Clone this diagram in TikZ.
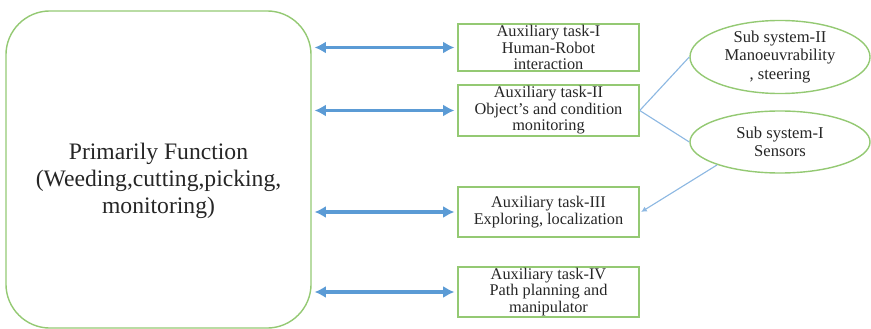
\documentclass[tikz,border=0pt]{standalone}
\usepackage{fontspec}
\setmainfont{Liberation Serif}
\usetikzlibrary{arrows.meta,positioning,shapes.geometric}
\definecolor{boxgreen}{HTML}{94C973}
\definecolor{arrowblue}{HTML}{5B9BD5}
\definecolor{lineblue}{HTML}{8DB8E2}
\definecolor{inktext}{HTML}{262626}

\tikzset{
 taskbox/.style={draw=boxgreen,line width=1pt,minimum width=4.525cm,align=center,
  text=inktext,inner sep=0pt,font=\fontsize{11.6}{11.8}\selectfont},
 subsys/.style={draw=boxgreen,line width=1pt,ellipse,minimum width=4.5cm,minimum height=1.55cm,
  align=center,text=inktext,inner sep=0pt,font=\fontsize{11.8}{13}\selectfont},
 link/.style={<->,arrowblue,line width=2.6pt,>={Latex[length=8pt,width=8.5pt]}},
 feed/.style={lineblue,line width=0.8pt}
}

\begin{document}
\begin{tikzpicture}[x=0.025cm,y=-0.025cm]
\useasboundingbox (0,0) rectangle (871,329);
\node[draw=boxgreen,line width=1pt,rounded corners=1.1cm,minimum width=7.625cm,minimum height=7.925cm] (main) at (158.5,169.5) {};
\node[align=center,text=inktext,font=\fontsize{16.8}{19}\selectfont] (mainlabel) at ([yshift=-0.28cm]main.center)
 {Primarily Function\\(Weeding,cutting,picking,\\monitoring)};
\node[taskbox,minimum height=1.175cm] (t1) at (548.5,47.5) {Auxiliary task-I\\Human-Robot\\interaction};
\node[taskbox,minimum height=1.275cm] (t2) at (548.5,110.5) {Auxiliary task-II\\Object's and condition\\monitoring};
\node[taskbox,minimum height=1.25cm] (t3) at (548.5,212) {Auxiliary task-III\\Exploring, localization};
\node[taskbox,minimum height=1.25cm] (t4) at (548.5,292) {Auxiliary task-IV\\Path planning and\\manipulator};
\node[subsys] (ss2) at (780,57) {Sub system-II\\Manoeuvrability\\, steering};
\node[subsys] (ss1) at (780,142) {Sub system-I\\Sensors};
\foreach \t in {t1,t2,t3,t4}
 \draw[link,shorten <=2pt,shorten >=2pt] (main.east |- \t.west) -- (\t.west);
\draw[feed] (t2.east) -- (ss2.west);
\draw[feed] (t2.east) -- (ss1.west);
\draw[feed,->,>={Latex[length=4pt,width=4pt]}] (ss1.200) -- ([xshift=1pt]t3.east);
\end{tikzpicture}
\end{document}
